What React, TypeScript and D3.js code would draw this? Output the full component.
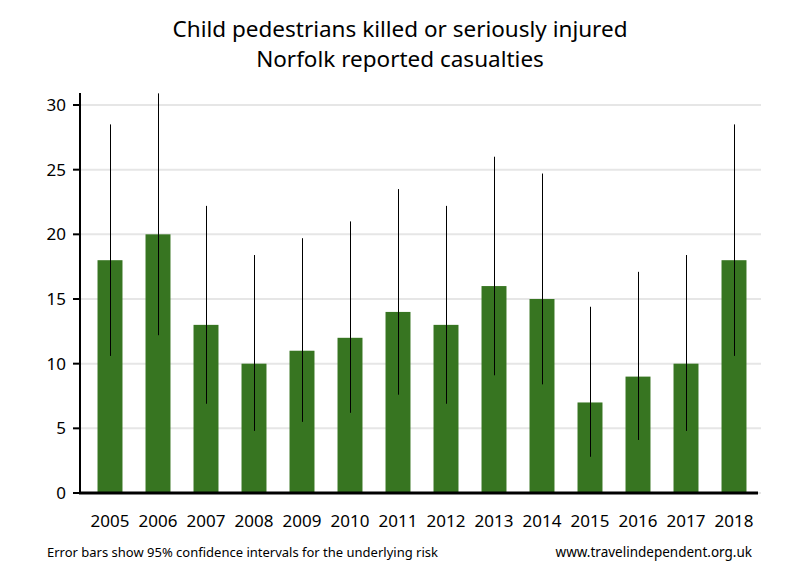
import React from "react";
import * as d3 from "d3";

const years = ["2005","2006","2007","2008","2009","2010","2011","2012","2013","2014","2015","2016","2017","2018"];
const values = [18, 20, 13, 10, 11, 12, 14, 13, 16, 15, 7, 9, 10, 18];
const lower = [10.6, 12.2, 6.9, 4.8, 5.5, 6.2, 7.6, 6.9, 9.1, 8.4, 2.8, 4.1, 4.8, 10.6];
const upper = [28.5, 30.9, 22.2, 18.4, 19.7, 21.0, 23.5, 22.2, 26.0, 24.7, 14.4, 17.1, 18.4, 28.5];
const yTicks = [0, 5, 10, 15, 20, 25, 30];
const titleLines = ["Child pedestrians killed or seriously injured", "Norfolk reported casualties"];
const footLeft = "Error bars show 95% confidence intervals for the underlying risk";
const footRight = "www.travelindependent.org.uk";

const W = 800, H = 580;
const font = "'Noto Sans', 'Open Sans', sans-serif";

export default function App() {
  const x = d3.scaleBand<string>().domain(years).range([86, 758]).paddingInner(0.48).paddingOuter(0.24);
  const y = d3.scaleLinear().domain([0, 30]).range([493, 105]);
  const axisX = 80;
  return (
    <svg width={W} height={H} style={{ position: "absolute", left: 0, top: 0, background: "#fff" }} fontFamily={font}>
      <rect width={W} height={H} fill="#fff" />
      {titleLines.map((t, i) => (
        <text key={i} x={400} y={37 + i * 30} textAnchor="middle" fontSize={22.5} fill="#000">{t}</text>
      ))}
      {yTicks.map((t) => (
        <g key={t}>
          <line x1={axisX} x2={761} y1={y(t)} y2={y(t)} stroke="#e6e6e6" strokeWidth={2} />
          <line x1={73} x2={axisX} y1={y(t)} y2={y(t)} stroke="#000" strokeWidth={2} />
          <text x={66} y={y(t) + 6} textAnchor="end" fontSize={17} fill="#000">{t}</text>
        </g>
      ))}
      {years.map((yr, i) => (
        <rect key={yr} x={x(yr)} y={y(values[i])} width={x.bandwidth()} height={y(0) - y(values[i])} fill="#377521" />
      ))}
      {years.map((yr, i) => {
        const cx = Math.round((x(yr) as number) + x.bandwidth() / 2) + 0.5;
        return <line key={yr} x1={cx} x2={cx} y1={y(upper[i])} y2={y(lower[i])} stroke="#000" strokeWidth={1} />;
      })}
      <line x1={axisX} x2={axisX} y1={93} y2={494} stroke="#000" strokeWidth={2} />
      <line x1={79} x2={758} y1={493} y2={493} stroke="#000" strokeWidth={3} />
      {years.map((yr) => (
        <text key={yr} x={(x(yr) as number) + x.bandwidth() / 2} y={527} textAnchor="middle" fontSize={17} fill="#000">{yr}</text>
      ))}
      <text x={47} y={557} fontSize={13} fill="#000">{footLeft}</text>
      <text x={752} y={557} textAnchor="end" fontSize={13.5} fill="#000">{footRight}</text>
    </svg>
  );
}
